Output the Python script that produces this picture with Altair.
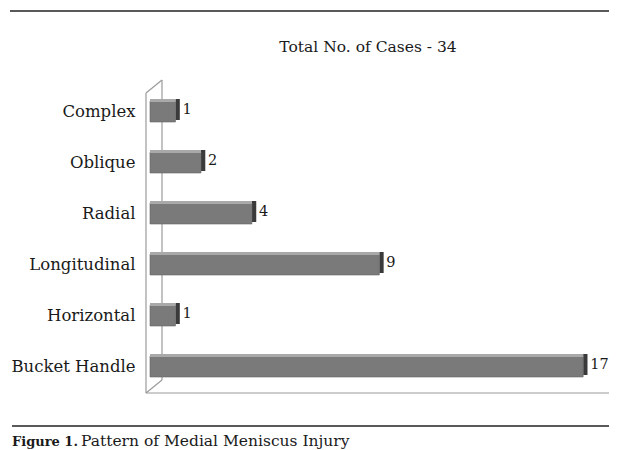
import altair as alt
import pandas as pd

categories = ["Complex", "Oblique", "Radial", "Longitudinal", "Horizontal", "Bucket Handle"]
counts = [1, 2, 4, 9, 1, 17]
title_text = ["Total No. of Cases - 34"]
caption_bold = ["Figure 1."]
caption_rest = ["Pattern of Medial Meniscus Injury"]

W, H = 451, 306
SERIF = "DejaVu Serif"

df = pd.DataFrame({"type": categories, "count": counts})

xs = alt.Scale(domain=[0, 17.7], nice=False, zero=True)
ys = alt.Scale(domain=categories, paddingInner=0, paddingOuter=0)

base = alt.Chart(df)
X = alt.X("count:Q", scale=xs, axis=None)
Y = alt.Y("type:N", scale=ys, title=None,
          axis=alt.Axis(ticks=False, domain=False, labelPadding=15, labelFont=SERIF,
                        labelFontSize=16.5, labelColor="#1a1a1a", grid=False))

front = base.mark_bar(size=21, color="#7a7a7a", stroke="#666666", strokeWidth=0.6).encode(x=X, y=Y)
top_face = base.mark_bar(size=3, color="#a9a9a9", yOffset=-11).encode(x=X, y=Y)
side = base.transform_calculate(endv="datum.count + 0.17").mark_bar(
    size=21, color="#3a3a3a", yOffset=-2
).encode(x=X, x2=alt.X2("endv:Q"), y=Y)
labels = base.mark_text(align="left", dx=7, dy=-2, font=SERIF, fontSize=14.5, color="#1a1a1a").encode(
    x=X, y=Y, text="count:Q"
)

one = pd.DataFrame({"a": [0]})


def rule(x1, y1, x2, y2, color="#9a9a9a", w=1.2):
    return alt.Chart(one).mark_rule(color=color, strokeWidth=w).encode(
        x=alt.value(x1), y=alt.value(y1), x2=alt.value(x2), y2=alt.value(y2)
    )


wall = [
    rule(-4, 7, -4, 307),
    rule(12, -6, 12, 294),
    rule(-4, 7, 12, -6),
    rule(-4, 307, 12, 294),
    rule(-4, 307, 459, 307),
]
page_rules = [
    rule(-140, -75, 459, -75, color="#222222", w=1.3),
    rule(-138, 340, 459, 340, color="#222222", w=1.3),
]


def text_layer(values, x, y, size, weight="normal", align="left", baseline="alphabetic"):
    d = pd.DataFrame({"t": values})
    return alt.Chart(d).mark_text(font=SERIF, fontSize=size, fontWeight=weight, align=align,
                                  baseline=baseline, color="#1a1a1a").encode(
        x=alt.value(x), y=alt.value(y), text="t:N"
    )


title = text_layer(title_text, 218, -39, 15.5, align="center", baseline="middle")
cap1 = text_layer(caption_bold, -138, 360, 13, weight="bold")
cap2 = text_layer(caption_rest, -69, 360, 15.5)

chart = alt.layer(*page_rules, *wall, side, front, top_face, labels, title, cap1, cap2).properties(
    width=W, height=H,
    autosize=alt.AutoSizeParams(type="none"),
    padding={"left": 142, "top": 78, "right": 8, "bottom": 58},
    background="white",
).configure_view(stroke=None)

chart.save("out.html", embed_options={"renderer": "svg", "actions": False})
